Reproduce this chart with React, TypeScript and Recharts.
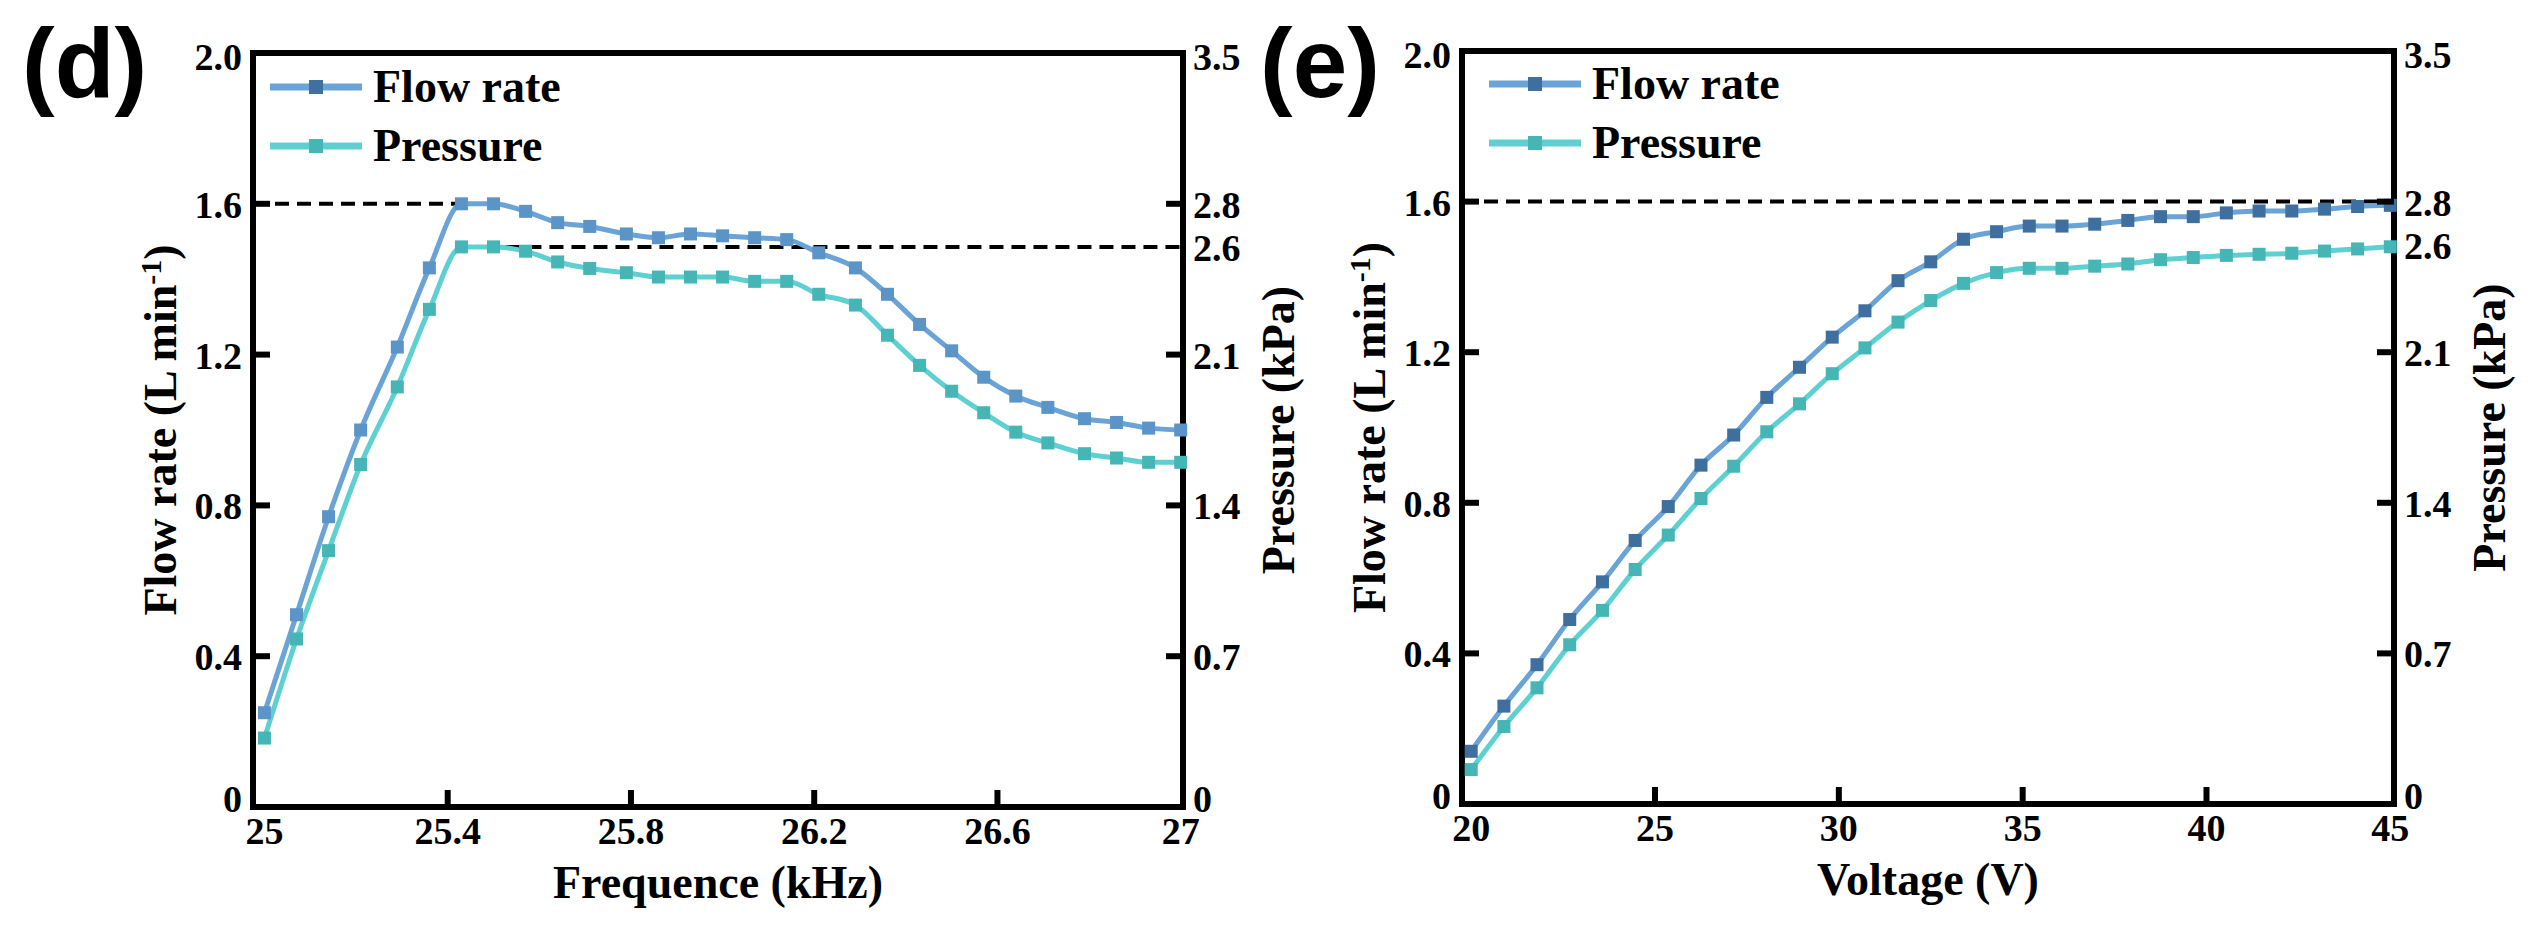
import { LineChart, Line, XAxis, YAxis, ReferenceLine, Legend } from "recharts";

// (d) frequency sweep
const freq = [25, 25.07, 25.14, 25.21, 25.29, 25.36, 25.43, 25.5, 25.57, 25.64, 25.71, 25.79, 25.86, 25.93, 26, 26.07, 26.14, 26.21, 26.29, 26.36, 26.43, 26.5, 26.57, 26.64, 26.71, 26.79, 26.86, 26.93, 27];
const flowByFreq = [0.25, 0.51, 0.77, 1.0, 1.22, 1.43, 1.6, 1.6, 1.58, 1.55, 1.54, 1.52, 1.51, 1.52, 1.515, 1.51, 1.505, 1.47, 1.43, 1.36, 1.28, 1.21, 1.14, 1.09, 1.06, 1.03, 1.02, 1.005, 1.0];
const pressureByFreq = [0.32, 0.78, 1.19, 1.59, 1.95, 2.31, 2.6, 2.6, 2.58, 2.53, 2.5, 2.48, 2.46, 2.46, 2.46, 2.44, 2.44, 2.38, 2.33, 2.19, 2.05, 1.93, 1.83, 1.74, 1.69, 1.64, 1.62, 1.6, 1.6];

// (e) voltage sweep
const voltage = [20, 20.89, 21.79, 22.68, 23.57, 24.46, 25.36, 26.25, 27.14, 28.04, 28.93, 29.82, 30.71, 31.61, 32.5, 33.39, 34.29, 35.18, 36.07, 36.96, 37.86, 38.75, 39.64, 40.54, 41.43, 42.32, 43.21, 44.11, 45];
const flowByVoltage = [0.14, 0.26, 0.37, 0.49, 0.59, 0.7, 0.79, 0.9, 0.98, 1.08, 1.16, 1.24, 1.31, 1.39, 1.44, 1.5, 1.52, 1.535, 1.535, 1.54, 1.55, 1.56, 1.56, 1.57, 1.575, 1.575, 1.58, 1.587, 1.59];
const pressureByVoltage = [0.16, 0.36, 0.54, 0.74, 0.9, 1.09, 1.25, 1.42, 1.57, 1.73, 1.86, 2.0, 2.12, 2.24, 2.34, 2.42, 2.47, 2.49, 2.49, 2.5, 2.51, 2.53, 2.54, 2.55, 2.555, 2.56, 2.57, 2.58, 2.59];

const freqTicks = [25, 25.4, 25.8, 26.2, 26.6, 27];
const voltTicks = [20, 25, 30, 35, 40, 45];
const flowTicks = [0, 0.4, 0.8, 1.2, 1.6, 2.0];
const pressureTicks = [0, 0.7, 1.4, 2.1, 2.6, 2.8, 3.5];

const SERIF = "'Liberation Serif', 'Times New Roman', serif";
const tickText = { fontFamily: SERIF, fontWeight: 700, fontSize: 38, fill: "#000" };
const titleText = { fontFamily: SERIF, fontWeight: 700, fontSize: 46, fill: "#000" };
const axisLine = { stroke: "#000", strokeWidth: 6, strokeLinecap: "square" as const };

const flowLine = "#6aa3d6";
const pressureLine = "#5fd0d2";
const pressureMark = "#45b5b5";

const bottomTick = (skip: number[]) => (p: any) => {
  const { x, y, payload } = p;
  return (
    <g>
      {!skip.includes(payload.value) && (
        <line x1={x} x2={x} y1={y} y2={y - 17} stroke="#000" strokeWidth={6} />
      )}
      <text x={x} y={y + 37} textAnchor="middle" {...tickText}>
        {String(payload.value)}
      </text>
    </g>
  );
};

// edge labels sit a little inside the frame, as in the original
const shift = (v: number, top: number) => (v === 0 ? 5 : v === top ? 17 : 14);

const leftTick = (p: any) => {
  const { x, y, payload } = p;
  const v = payload.value;
  return (
    <g>
      {v !== 0 && v !== 2 && <line x1={x} x2={x + 17} y1={y} y2={y} stroke="#000" strokeWidth={6} />}
      <text x={x - 11} y={y + shift(v, 2)} textAnchor="end" {...tickText}>
        {v === 0 ? "0" : v.toFixed(1)}
      </text>
    </g>
  );
};

const rightTick = (p: any) => {
  const { x, y, payload } = p;
  const v = payload.value;
  return (
    <g>
      {![0, 2.6, 3.5].includes(v) && <line x1={x} x2={x - 17} y1={y} y2={y} stroke="#000" strokeWidth={6} />}
      <text x={x + 10} y={y + shift(v, 3.5)} textAnchor="start" {...tickText}>
        {v === 0 ? "0" : v.toFixed(1)}
      </text>
    </g>
  );
};

const flowTitle = (p: any) => {
  const vb = p.viewBox;
  const cx = vb.x + vb.width - 93;
  const cy = vb.y + vb.height / 2;
  return (
    <text x={cx} y={cy} dy="0.35em" textAnchor="middle" transform={`rotate(-90 ${cx} ${cy})`} {...titleText}>
      Flow rate (L min<tspan dy={-15} fontSize={30}>-1</tspan><tspan dy={15}>)</tspan>
    </text>
  );
};

const pressureTitle = (p: any) => {
  const vb = p.viewBox;
  const cx = vb.x + 95;
  const cy = vb.y + vb.height / 2;
  return (
    <text x={cx} y={cy} dy="0.35em" textAnchor="middle" transform={`rotate(-90 ${cx} ${cy})`} {...titleText}>
      Pressure (kPa)
    </text>
  );
};

const xTitle = (text: string) => (p: any) => {
  const vb = p.viewBox;
  return (
    <text x={vb.x + vb.width / 2} y={vb.y + 91} textAnchor="middle" {...titleText}>
      {text}
    </text>
  );
};

const square = (fill: string) => (p: any) => (
  <rect key={`m${p.index}`} x={p.cx - 6.5} y={p.cy - 6.5} width={13} height={13} fill={fill} />
);

const legendBox = (flowMark: string) => () => {
  const items = [
    { label: "Flow rate", line: flowLine, mark: flowMark, y: 47 },
    { label: "Pressure", line: pressureLine, mark: pressureMark, y: 106 },
  ];
  return (
    <svg width={420} height={130}>
      {items.map((it) => (
        <g key={it.label}>
          <line x1={10} x2={102} y1={it.y} y2={it.y} stroke={it.line} strokeWidth={7} />
          <rect x={49} y={it.y - 7} width={14} height={14} fill={it.mark} />
          <text x={113} y={it.y + 15} fontFamily={SERIF} fontWeight={700} fontSize={46} fill="#000">
            {it.label}
          </text>
        </g>
      ))}
    </svg>
  );
};

type PanelProps = {
  rows: { x: number; flow: number; pressure: number }[];
  left: number;
  width: number;
  top: number;
  leftW: number;
  rightW: number;
  xH: number;
  xDomain: [number, number];
  xTicks: number[];
  xLabel: string;
  flowMark: string;
  legendMark: string;
  legendPos: { left: number; top: number };
  guides: React.ReactNode;
};

function Panel(p: PanelProps) {
  return (
    <div style={{ position: "absolute", left: p.left, top: 0 }}>
      <LineChart width={p.width} height={930} data={p.rows} margin={{ top: p.top, right: 0, bottom: 0, left: 0 }}>
        <XAxis
          dataKey="x"
          type="number"
          domain={p.xDomain}
          ticks={p.xTicks}
          interval={0}
          height={p.xH}
          axisLine={axisLine}
          tickLine={false}
          tickSize={0}
          tickMargin={0}
          tick={bottomTick([p.xTicks[0], p.xTicks[p.xTicks.length - 1]])}
          label={xTitle(p.xLabel)}
        />
        <YAxis
          yAxisId="f"
          orientation="left"
          domain={[0, 2]}
          ticks={flowTicks}
          interval={0}
          width={p.leftW}
          axisLine={axisLine}
          tickLine={false}
          tickSize={0}
          tickMargin={0}
          tick={leftTick}
          label={flowTitle}
        />
        <YAxis
          yAxisId="p"
          orientation="right"
          domain={[0, 3.5]}
          ticks={pressureTicks}
          interval={0}
          width={p.rightW}
          axisLine={axisLine}
          tickLine={false}
          tickSize={0}
          tickMargin={0}
          tick={rightTick}
          label={pressureTitle}
        />
        <ReferenceLine yAxisId="f" y={2} stroke="#000" strokeWidth={6} />
        {p.guides}
        <Line
          yAxisId="p"
          dataKey="pressure"
          type="monotone"
          stroke={pressureLine}
          strokeWidth={5}
          dot={square(pressureMark)}
          activeDot={false}
          isAnimationActive={false}
        />
        <Line
          yAxisId="f"
          dataKey="flow"
          type="monotone"
          stroke={flowLine}
          strokeWidth={5}
          dot={square(p.flowMark)}
          activeDot={false}
          isAnimationActive={false}
        />
        <Legend
          layout="vertical"
          align="center"
          verticalAlign="middle"
          wrapperStyle={{ left: p.legendPos.left, top: p.legendPos.top, width: 420, height: 130 }}
          content={legendBox(p.legendMark)}
        />
      </LineChart>
    </div>
  );
}

export default function App() {
  const freqRows = freq.map((x, i) => ({ x, flow: flowByFreq[i], pressure: pressureByFreq[i] }));
  const voltRows = voltage.map((x, i) => ({ x, flow: flowByVoltage[i], pressure: pressureByVoltage[i] }));
  const dash = { stroke: "#000", strokeWidth: 4, strokeDasharray: "14 8" };

  return (
    <div style={{ position: "absolute", left: 0, top: 0, width: 2534, height: 930, background: "#fff" }}>
      <svg width={2534} height={930} style={{ position: "absolute", left: 0, top: 0 }}>
        <text x={22} y={97} fontFamily="'Liberation Sans', Arial, sans-serif" fontWeight={700} fontSize={98}>(d)</text>
        <text x={1260} y={97} fontFamily="'Liberation Sans', Arial, sans-serif" fontWeight={700} fontSize={98}>(e)</text>
      </svg>
      <Panel
        rows={freqRows}
        left={0}
        width={1320}
        top={53}
        leftW={253}
        rightW={137}
        xH={123}
        xDomain={[24.975, 27.005]}
        xTicks={freqTicks}
        xLabel="Frequence (kHz)"
        flowMark="#5b95c8"
        legendMark="#3f70a0"
        legendPos={{ left: 260, top: 40 }}
        guides={[
          <ReferenceLine key="g1" yAxisId="f" segment={[{ x: 24.975, y: 1.6 }, { x: 25.44, y: 1.6 }]} {...dash} />,
          <ReferenceLine key="g2" yAxisId="p" segment={[{ x: 25.43, y: 2.6 }, { x: 27.005, y: 2.6 }]} {...dash} />,
        ]}
      />
      <Panel
        rows={voltRows}
        left={1240}
        width={1294}
        top={51}
        leftW={222}
        rightW={140}
        xH={126}
        xDomain={[19.75, 45.1]}
        xTicks={voltTicks}
        xLabel="Voltage (V)"
        flowMark="#3f6f9f"
        legendMark="#3f6f9f"
        legendPos={{ left: 239, top: 37 }}
        guides={[<ReferenceLine key="g3" yAxisId="f" y={1.6} {...dash} />]}
      />
    </div>
  );
}
